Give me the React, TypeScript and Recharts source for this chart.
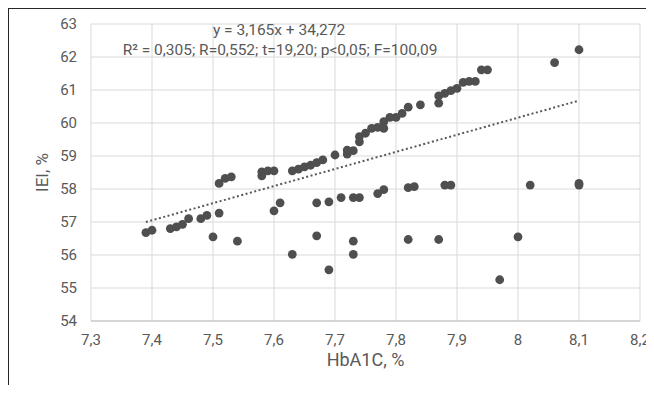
import React from 'react';
import { ScatterChart, Scatter, XAxis, YAxis, CartesianGrid, ReferenceLine, Label } from 'recharts';

const hba1c = [
  7.39, 7.40, 7.43, 7.44, 7.45, 7.46, 7.48, 7.49, 7.51, 7.50, 7.54, 7.51, 7.52, 7.53,
  7.58, 7.58, 7.59, 7.60, 7.60, 7.61, 7.63, 7.63, 7.64, 7.65, 7.66, 7.67, 7.67, 7.67,
  7.68, 7.69, 7.69, 7.70, 7.71, 7.72, 7.72, 7.73, 7.73, 7.73, 7.73, 7.74, 7.74, 7.74,
  7.75, 7.76, 7.77, 7.77, 7.78, 7.78, 7.78, 7.79, 7.80, 7.81, 7.82, 7.82, 7.82, 7.83,
  7.84, 7.87, 7.87, 7.87, 7.88, 7.88, 7.89, 7.89, 7.90, 7.91, 7.92, 7.93, 7.94, 7.95,
  7.97, 8.00, 8.02, 8.06, 8.10, 8.10, 8.10,
];
const iei = [
  56.68, 56.75, 56.80, 56.85, 56.93, 57.10, 57.10, 57.20, 57.27, 56.55, 56.42, 58.17, 58.32, 58.37,
  58.40, 58.52, 58.55, 58.55, 57.34, 57.58, 58.55, 56.02, 58.60, 58.67, 58.72, 58.80, 57.58, 56.58,
  58.88, 57.61, 55.55, 59.03, 57.74, 59.06, 59.18, 59.16, 57.74, 56.42, 56.02, 59.43, 59.59, 57.74,
  59.69, 59.84, 57.86, 59.87, 59.84, 60.04, 57.98, 60.17, 60.17, 60.29, 60.48, 58.04, 56.47, 58.07,
  60.55, 60.60, 60.82, 56.47, 60.90, 58.12, 60.98, 58.12, 61.05, 61.23, 61.26, 61.26, 61.61, 61.61,
  55.25, 56.55, 58.12, 61.83, 62.22, 58.17, 58.12,
];

const trendX = [7.39, 8.1];
const trendY = [57.0, 60.68];

const xTicks = [7.3, 7.4, 7.5, 7.6, 7.7, 7.8, 7.9, 8.0, 8.1, 8.2];
const yTicks = [54, 55, 56, 57, 58, 59, 60, 61, 62, 63];

const equationText = 'y = 3,165x + 34,272';
const statsText = 'R² = 0,305; R=0,552; t=19,20; p<0,05; F=100,09';
const xTitle = 'HbA1C, %';
const yTitle = 'IEI, %';

const points = hba1c.map((x, i) => ({ x, y: iei[i] }));
const segment = trendX.map((x, i) => ({ x, y: trendY[i] }));

const FONT = 'Roboto, sans-serif';
const TXT = '#595959';

const fmt = (v: number) => String(Math.round(v * 10) / 10).replace('.', ',');

export default function App() {
  return (
    <div
      style={{
        width: 645,
        height: 376,
        borderTop: '1px solid #262626',
        borderLeft: '1px solid #262626',
        background: '#fff',
      }}
    >
      <ScatterChart width={645} height={376} margin={{ top: 15, right: 14, left: 13, bottom: 34 }}>
        <CartesianGrid stroke="#d9d9d9" strokeWidth={1} />
        <XAxis
          type="number"
          dataKey="x"
          domain={[7.3, 8.2]}
          ticks={xTicks}
          tickFormatter={fmt}
          height={30}
          axisLine={{ stroke: '#bfbfbf' }}
          tickLine={false}
          tickSize={6}
          tickMargin={7}
          tick={{ fill: TXT, fontSize: 15, fontFamily: FONT }}
          interval={0}
        >
          <Label
            value={xTitle}
            position="bottom"
            offset={2}
            style={{ fill: TXT, fontSize: 18, fontFamily: FONT }}
          />
        </XAxis>
        <YAxis
          type="number"
          dataKey="y"
          domain={[54, 63]}
          ticks={yTicks}
          width={69}
          axisLine={false}
          tickLine={false}
          tickSize={6}
          tickMargin={8}
          tick={{ fill: TXT, fontSize: 15, fontFamily: FONT }}
          interval={0}
        >
          <Label
            content={(props: any) => {
              const vb = props.viewBox || { x: 13, y: 15, width: 69, height: 297 };
              const cx = vb.x + 20;
              const cy = vb.y + vb.height / 2;
              return (
                <text
                  x={cx}
                  y={cy}
                  transform={`rotate(-90 ${cx} ${cy})`}
                  textAnchor="middle"
                  dominantBaseline="central"
                  fill={TXT}
                  fontSize={17}
                  fontFamily={FONT}
                >
                  {yTitle}
                </text>
              );
            }}
          />
        </YAxis>
        <ReferenceLine
          segment={segment}
          stroke="#595959"
          strokeWidth={2}
          strokeDasharray="2 2.5"
          ifOverflow="visible"
        />
        <Scatter data={points} fill="#4f4f4f" isAnimationActive={false} shape={(p: any) => <circle cx={p.cx} cy={p.cy} r={4.4} fill="#4f4f4f" />} />
        <text x={270} y={21} textAnchor="middle" dominantBaseline="central" fill={TXT} fontSize={15.5} fontFamily={FONT}>
          {equationText}
        </text>
        <text x={271} y={41} textAnchor="middle" dominantBaseline="central" fill={TXT} fontSize={15.5} fontFamily={FONT}>
          {statsText}
        </text>
      </ScatterChart>
    </div>
  );
}
